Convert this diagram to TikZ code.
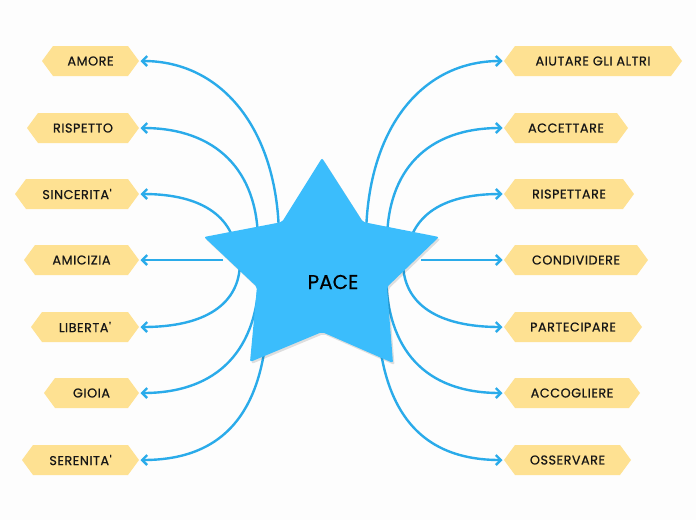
\documentclass[tikz,border=0pt]{standalone}
\usepackage{fontspec}
\setmainfont{Poppins}
\usetikzlibrary{arrows.meta}
\definecolor{starblue}{HTML}{3BBDFC}
\definecolor{linkblue}{HTML}{2AABEA}
\definecolor{lblyel}{HTML}{FEE192}
\definecolor{bgcol}{HTML}{FDFDFD}
\definecolor{txtcol}{HTML}{161616}
\newfontfamily\lblfont[LetterSpace=4,FakeBold=0.6]{Poppins}
\newfontfamily\pacefont[FakeBold=0.6]{Poppins}
\tikzset{
  conn/.style={draw=linkblue, line width=2.4pt, -{Straight Barb[length=5pt,width=10pt]}},
  lbltext/.style={font=\lblfont\fontsize{12.8}{15}\selectfont, text=txtcol, inner sep=0pt},
  lblshape/.style={fill=lblyel},
  startxt/.style={font=\pacefont\fontsize{20}{24}\selectfont, text=black, inner sep=0pt},
}
\newcommand\leftlbl[5]{%
  \fill[lblshape] (#2,#4) -- (#2+11,#4-15) -- (#3-11,#4-15) -- (#3,#4) -- (#3-11,#4+15) -- (#2+11,#4+15) -- cycle;
  \node[lbltext] (#1) at ({(#2+#3)/2},#4) {#5};
  \coordinate (#1-tip) at (#3+1.5,#4);
}
\newcommand\rightlbl[5]{%
  \fill[lblshape] (#2,#4) -- (#2+11,#4-15) -- (#3-11,#4-15) -- (#3,#4) -- (#3-11,#4+15) -- (#2+11,#4+15) -- cycle;
  \node[lbltext] (#1) at ({(#2+#3)/2},#4) {#5};
  \coordinate (#1-tip) at (#2-1.5,#4);
}
\begin{document}
\begin{tikzpicture}[x=1pt,y=-1pt]
\fill[bgcol] (0,0) rectangle (696,520);
\useasboundingbox (0,0) rectangle (696,520);

% connector start points (hidden behind the star)
\coordinate (sAmore) at (279,240);
\coordinate (sRispetto) at (258,242);
\coordinate (sSincerita) at (237,262);
\coordinate (sAmicizia) at (223,260);
\coordinate (sLiberta) at (240,262);
\coordinate (sGioia) at (259,272);
\coordinate (sSerenita) at (268,300);
\coordinate (sAiutare) at (366,240);
\coordinate (sAccettare) at (387,242);
\coordinate (sRispettare) at (407,262);
\coordinate (sCondividere) at (421,260);
\coordinate (sPartecipare) at (403,262);
\coordinate (sAccogliere) at (386,272);
\coordinate (sOsservare) at (377,300);

% labels
\leftlbl{amore}{42}{139}{61}{AMORE}
\leftlbl{rispetto}{27}{139}{128}{RISPETTO}
\leftlbl{sincerita}{15}{139}{194}{SINCERITA'}
\leftlbl{amicizia}{24}{139}{260}{AMICIZIA}
\leftlbl{liberta}{31}{139}{327}{LIBERTA'}
\leftlbl{gioia}{44}{139}{393}{GIOIA}
\leftlbl{serenita}{22}{139}{460}{SERENITA'}
\rightlbl{aiutare}{504}{682}{61}{AIUTARE GLI ALTRI}
\rightlbl{accettare}{504}{628}{128}{ACCETTARE}
\rightlbl{rispettare}{504}{634}{194}{RISPETTARE}
\rightlbl{condividere}{504}{648}{260}{CONDIVIDERE}
\rightlbl{partecipare}{504}{642}{327}{PARTECIPARE}
\rightlbl{accogliere}{504}{640}{393}{ACCOGLIERE}
\rightlbl{osservare}{504}{631}{460}{OSSERVARE}

% connectors
\draw[conn] (sAmore) .. controls +(0,-108) and +(83,0) .. (amore-tip);
\draw[conn] (sRispetto) .. controls +(0,-72) and +(75,0) .. (rispetto-tip);
\draw[conn] (sSincerita) .. controls +(0,-44) and +(63,0) .. (sincerita-tip);
\draw[conn] (sAmicizia) -- (amicizia-tip);
\draw[conn] (sLiberta) .. controls +(0,42) and +(65,0) .. (liberta-tip);
\draw[conn] (sGioia) .. controls +(0,78) and +(77,0) .. (gioia-tip);
\draw[conn] (sSerenita) .. controls +(0,110) and +(85,0) .. (serenita-tip);
\draw[conn] (sAiutare) .. controls +(0,-108) and +(-83,0) .. (aiutare-tip);
\draw[conn] (sAccettare) .. controls +(0,-72) and +(-75,0) .. (accettare-tip);
\draw[conn] (sRispettare) .. controls +(0,-44) and +(-63,0) .. (rispettare-tip);
\draw[conn] (sCondividere) -- (condividere-tip);
\draw[conn] (sPartecipare) .. controls +(0,42) and +(-65,0) .. (partecipare-tip);
\draw[conn] (sAccogliere) .. controls +(0,78) and +(-77,0) .. (accogliere-tip);
\draw[conn] (sOsservare) .. controls +(0,110) and +(-83,0) .. (osservare-tip);

% star
\fill[black, opacity=0.12, rounded corners=2pt, shift={(1.5,2)}]
  (322,158) -- (363,222) -- (439,237) -- (387,287) -- (393,363) -- (322,332)
  -- (250,362) -- (257,287) -- (204,237) -- (282,222) -- cycle;
\fill[starblue, rounded corners=2pt]
  (322,158) -- (363,222) -- (439,237) -- (387,287) -- (393,363) -- (322,332)
  -- (250,362) -- (257,287) -- (204,237) -- (282,222) -- cycle;
\node[startxt] (pace) at (333,282) {PACE};
\end{tikzpicture}
\end{document}
